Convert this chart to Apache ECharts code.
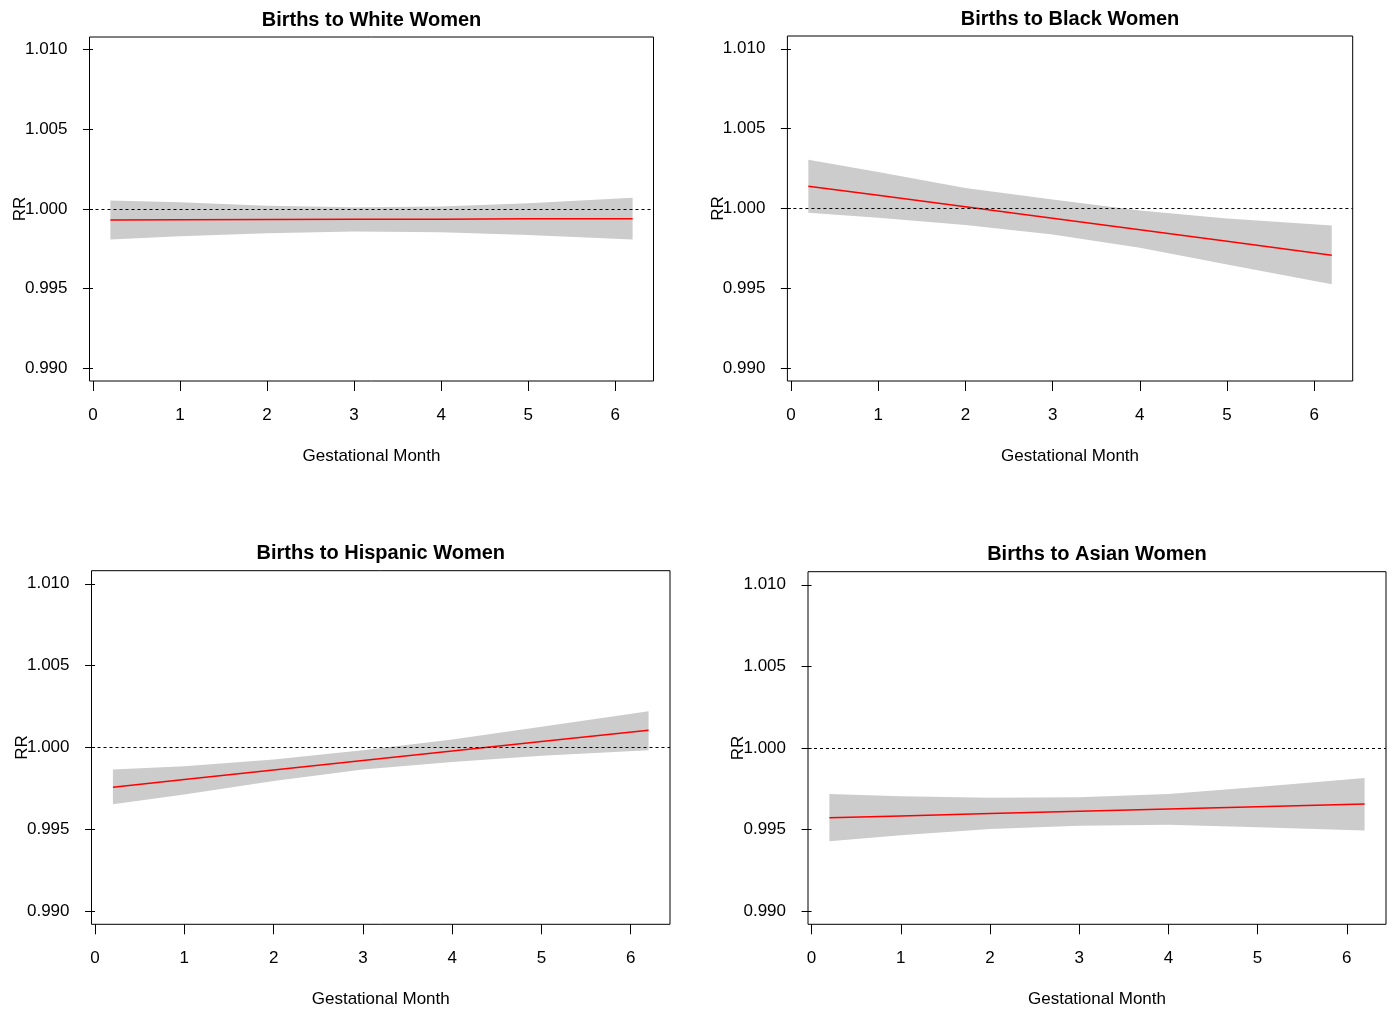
<!DOCTYPE html>
<html>
<head>
<meta charset="utf-8">
<script src="https://cdn.jsdelivr.net/npm/echarts@6/dist/echarts.min.js"></script>
<style>
  html, body { margin: 0; padding: 0; background: #fff; }
  #chart { width: 1393px; height: 1013px; }
</style>
</head>
<body>
<div id="chart"></div>
<script>
// gestational month at which the fitted RR was read
var months = [0.2, 1, 2, 3, 4, 5, 6.2];
var xTicks = [0, 1, 2, 3, 4, 5, 6];
var yTicks = [0.990, 0.995, 1.000, 1.005, 1.010];

var whiteFit   = [0.99931, 0.99932, 0.99934, 0.99935, 0.99936, 0.99938, 0.99939];
var whiteLower = [0.99808, 0.99829, 0.99848, 0.99858, 0.99854, 0.99837, 0.99808];
var whiteUpper = [1.00054, 1.00042, 1.00021, 1.00011, 1.00015, 1.00036, 1.00070];

var blackFit   = [1.00140, 1.00083, 1.00011, 0.99939, 0.99867, 0.99795, 0.99708];
var blackLower = [0.99973, 0.99942, 0.99896, 0.99838, 0.99754, 0.99650, 0.99525];
var blackUpper = [1.00306, 1.00229, 1.00129, 1.00056, 0.99988, 0.99938, 0.99894];

var hispFit   = [0.99757, 0.99804, 0.99862, 0.99920, 0.99978, 1.00036, 1.00106];
var hispLower = [0.99653, 0.99713, 0.99796, 0.99865, 0.99912, 0.99949, 0.99983];
var hispUpper = [0.99865, 0.99886, 0.99927, 0.99983, 1.00049, 1.00126, 1.00222];

var asianFit   = [0.99573, 0.99584, 0.99598, 0.99612, 0.99626, 0.99640, 0.99657];
var asianLower = [0.99428, 0.99465, 0.99504, 0.99524, 0.99530, 0.99514, 0.99495];
var asianUpper = [0.99718, 0.99704, 0.99696, 0.99698, 0.99718, 0.99761, 0.99816];

var FONT = '"Liberation Sans", Arial, Helvetica, sans-serif';

// plot boxes: [left, top, width, height]
var panels = [
  { title: 'Births to White Women',    fit: whiteFit, lower: whiteLower, upper: whiteUpper, box: [89.5, 37, 564, 344] },
  { title: 'Births to Black Women',    fit: blackFit, lower: blackLower, upper: blackUpper, box: [787.4, 36, 565.3, 345] },
  { title: 'Births to Hispanic Women', fit: hispFit,  lower: hispLower,  upper: hispUpper,  box: [91.5, 570.7, 578.5, 353.6] },
  { title: 'Births to Asian Women',    fit: asianFit, lower: asianLower, upper: asianUpper, box: [808, 571.7, 578, 352.6] }
];

function pairs(xs, ys) {
  return xs.map(function (x, i) { return [x, ys[i]]; });
}

// confidence band as one polygon: upper edge forward, lower edge back
function bandRenderer(p) {
  return function (params, api) {
    if (params.dataIndex !== 0) return null;
    var pts = [];
    for (var k = 0; k < months.length; k++) pts.push(api.coord([months[k], p.upper[k]]));
    for (var k2 = months.length - 1; k2 >= 0; k2--) pts.push(api.coord([months[k2], p.lower[k2]]));
    return {
      type: 'polygon',
      shape: { points: pts },
      style: { fill: '#CCCCCC', stroke: null }
    };
  };
}

var grid = [], xAxis = [], yAxis = [], series = [], graphic = [];

panels.forEach(function (p, i) {
  var b = p.box;
  grid.push({
    left: b[0], top: b[1], width: b[2], height: b[3],
    show: true, borderColor: '#000', borderWidth: 1, backgroundColor: 'transparent', z: 5
  });
  xAxis.push({
    gridIndex: i, type: 'value', min: -0.04, max: 6.44,
    name: 'Gestational Month', nameLocation: 'middle', nameGap: 67, nameMoveOverlap: false,
    nameTextStyle: { fontSize: 17, color: '#000', fontFamily: FONT },
    axisLine: { show: false },
    splitLine: { show: false },
    axisTick: { show: true, length: 10, lineStyle: { color: '#000', width: 1 }, customValues: xTicks },
    axisLabel: { customValues: xTicks, fontSize: 17, color: '#000', fontFamily: FONT, margin: 26 }
  });
  yAxis.push({
    gridIndex: i, type: 'value', min: 0.9892, max: 1.0108,
    name: 'RR', nameLocation: 'middle', nameGap: 61, nameRotate: 90, nameMoveOverlap: false,
    nameTextStyle: { fontSize: 17, color: '#000', fontFamily: FONT },
    axisLine: { show: false },
    splitLine: { show: false },
    axisTick: { show: true, length: 10, lineStyle: { color: '#000', width: 1 }, customValues: yTicks },
    axisLabel: {
      customValues: yTicks, fontSize: 17, color: '#000', fontFamily: FONT, margin: 22,
      formatter: function (v) { return Number(v).toFixed(3); }
    }
  });

  series.push({
    type: 'custom', xAxisIndex: i, yAxisIndex: i,
    data: pairs(months, p.lower),
    renderItem: bandRenderer(p),
    silent: true, z: 1
  });
  series.push({
    type: 'line', xAxisIndex: i, yAxisIndex: i,
    data: pairs(months, p.fit), symbol: 'none',
    lineStyle: { color: '#FF0000', width: 1.5 }, silent: true, z: 3,
    markLine: {
      silent: true, symbol: ['none', 'none'], label: { show: false },
      lineStyle: { color: '#000', width: 1, type: [3, 3] },
      data: [{ yAxis: 1 }]
    }
  });

  graphic.push({
    type: 'text',
    x: b[0] + b[2] / 2,
    y: b[1] - 17,
    style: {
      text: p.title, fill: '#000',
      fontSize: 20, fontWeight: 'bold', fontFamily: FONT,
      align: 'center', verticalAlign: 'middle',
      textAlign: 'center', textVerticalAlign: 'middle'
    }
  });
});

var chart = echarts.init(document.getElementById('chart'));
chart.setOption({
  animation: false,
  backgroundColor: '#fff',
  grid: grid,
  xAxis: xAxis,
  yAxis: yAxis,
  series: series,
  graphic: graphic
});
</script>
</body>
</html>
